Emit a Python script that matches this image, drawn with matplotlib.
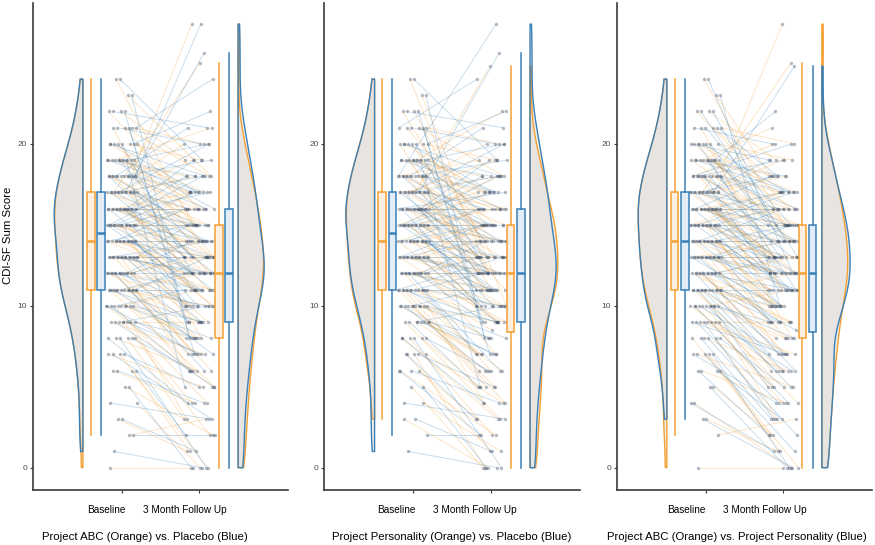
import numpy as np
import matplotlib
matplotlib.use("Agg")
import matplotlib.pyplot as plt
from matplotlib.collections import LineCollection
from matplotlib.patches import Polygon

plt.rcParams['font.family'] = ['Liberation Sans', 'DejaVu Sans']

# ---------------- data (paired scores, one entry per participant) ----------------
abc_baseline = [0, 2, 3, 4, 5, 6, 6, 7, 7, 8, 8, 8, 9, 9, 9, 9, 10, 10, 10, 10, 10,
                11, 11, 11, 11, 11, 11, 11,
                12, 12, 12, 12, 12, 12, 12,
                13, 13, 13, 13, 13, 13, 13, 13,
                14, 14, 14, 14, 14, 14, 14, 14,
                15, 15, 15, 15, 15, 15, 15, 15,
                16, 16, 16, 16, 16, 16, 16, 16, 16,
                17, 17, 17, 17, 17, 17, 17, 17,
                18, 18, 18, 18, 18, 18, 18,
                19, 19, 19, 19, 19, 19,
                20, 20, 20, 20,
                21, 21, 21,
                22, 22,
                23,
                24]
abc_followup = [0, 3, 1, 0, 2, 4, 0, 1, 5, 3, 6, 2, 4, 7, 3, 9, 5, 8, 4, 6, 11,
                5, 7, 10, 6, 12, 8, 9,
                6, 10, 13, 7, 9, 11, 8,
                9, 12, 14, 10, 8, 11, 7, 13,
                10, 12, 10, 11, 13, 9, 14, 12,
                11, 13, 17, 12, 14, 15, 10, 16,
                12, 14, 8, 13, 15, 11, 17, 16, 13,
                14, 12, 19, 15, 16, 25, 13, 18,
                15, 17, 14, 20, 16, 12, 27.4,
                16, 18, 14, 21, 15, 17,
                17, 19, 13, 15,
                18, 11, 20,
                19, 16,
                18,
                15]

placebo_baseline = [1, 2, 3, 4, 5, 6, 6, 7, 7, 8, 8, 8, 9, 9, 9, 9, 10, 10, 10, 10, 10,
                    11, 11, 11, 11, 11, 11, 11,
                    12, 12, 12, 12, 12, 12, 12,
                    13, 13, 13, 13, 13, 13, 13, 13,
                    14, 14, 14, 14, 14, 14, 14,
                    15, 15, 15, 15, 15, 15, 15, 15, 15,
                    16, 16, 16, 16, 16, 16, 16, 16, 16,
                    17, 17, 17, 17, 17, 17, 17, 17,
                    18, 18, 18, 18, 18, 18, 18,
                    19, 19, 19, 19, 19, 19,
                    20, 20, 20, 20,
                    21, 21, 21,
                    22, 22,
                    23,
                    24]
placebo_followup = [0, 2, 1, 3, 0, 4, 2, 5, 3, 6, 0, 4, 7, 5, 8, 10, 6, 9, 11, 7, 8,
                    8, 10, 12, 9, 7, 11, 13,
                    9, 11, 13, 10, 12, 14, 6,
                    10, 12, 14, 11, 13, 15, 9, 12,
                    11, 13, 15, 12, 16, 10, 14,
                    12, 14, 16, 11, 13, 17, 15, 10, 18,
                    13, 15, 17, 12, 14, 18, 16, 11, 19,
                    14, 16, 18, 12, 15, 20, 13, 25.6,
                    15, 17, 19, 13, 16, 21, 27.4,
                    16, 18, 20, 14, 17, 5,
                    17, 22, 12, 18,
                    9, 20, 24,
                    7, 21,
                    8,
                    19]

personality_baseline = [3, 4, 5, 6, 6, 7, 7, 7, 8, 8, 8, 9, 9, 9, 9, 10, 10, 10, 10, 10, 10,
                        11, 11, 11, 11, 11, 11, 11,
                        12, 12, 12, 12, 12, 12, 12,
                        13, 13, 13, 13, 13, 13, 13, 13,
                        14, 14, 14, 14, 14, 14, 14, 14,
                        15, 15, 15, 15, 15, 15, 15, 15,
                        16, 16, 16, 16, 16, 16, 16, 16, 16,
                        17, 17, 17, 17, 17, 17, 17, 17,
                        18, 18, 18, 18, 18, 18, 18,
                        19, 19, 19, 19, 19, 19,
                        20, 20, 20, 20,
                        21, 21, 21,
                        22, 22,
                        23,
                        24]
personality_followup = [0, 1, 0, 2, 3, 1, 4, 0, 3, 5, 2, 4, 6, 3, 7, 5, 7, 8, 6, 4, 9,
                        6, 8.5, 9, 5, 10, 7, 11,
                        9, 11, 10, 12, 7, 13, 6,
                        10, 12, 9, 14, 11, 13, 15, 12,
                        11, 13, 10, 15, 12, 14, 9, 16,
                        12, 14, 11, 16, 13, 15, 10, 17,
                        13, 15, 12, 17, 14, 16, 11, 18, 12,
                        14, 16, 13, 18, 15, 19, 12, 24.8,
                        15, 17, 14, 19, 16, 11, 20,
                        16, 18, 15, 13, 17, 22,
                        17, 19, 14, 11,
                        18, 15, 20,
                        14, 13,
                        10,
                        12]

time_labels = ["Baseline", "3 Month Follow Up"]
panel_titles = ["Project ABC (Orange) vs. Placebo (Blue)",
                "Project Personality (Orange) vs. Placebo (Blue)",
                "Project ABC (Orange) vs. Project Personality (Blue)"]
panel_groups = [((abc_baseline, abc_followup), (placebo_baseline, placebo_followup)),
                ((personality_baseline, personality_followup), (placebo_baseline, placebo_followup)),
                ((abc_baseline, abc_followup), (personality_baseline, personality_followup))]
y_ticks = [0, 10, 20]
y_label = "CDI-SF Sum Score"

# ---------------- styling ----------------
ORANGE = "#F5A033"
BLUE = "#3A80B8"
ORANGE_FILL = "#FDF0E2"
BLUE_FILL = "#E2EDF7"
VIOLIN_FILL = "#E4E0DC"
colors = [ORANGE, BLUE]
fills = [ORANGE_FILL, BLUE_FILL]

W, H = 875, 545
fig = plt.figure(figsize=(W / 100, H / 100), dpi=100)

axes_px = [(32.7, 288.0), (324.3, 580.0), (616.7, 871.7)]
top_px, bot_px = 3, 490
xlim = (-0.147, 3.143)
ylim = (-1.38, 28.7)

box_pos = {0: (0.60, 2.25), 1: (0.73, 2.38)}
violin_edge = (0.5, 2.5)
violin_maxw = 0.37
jit_w = 0.40
bw_adjust = 0.75


def kde(vals, grid):
    v = np.asarray(vals, float)
    n = len(v)
    sd = v.std(ddof=1)
    iqr = np.subtract(*np.percentile(v, [75, 25]))
    bw = 0.9 * min(sd, iqr / 1.34) * n ** -0.2 * bw_adjust
    z = (grid[:, None] - v[None, :]) / bw
    return np.exp(-0.5 * z ** 2).sum(axis=1) / (n * bw * np.sqrt(2 * np.pi))


tick_label_px = [(106, 185), (396, 475), (686, 765)]
title_px = [145, 452, 737]

for p, (groups, (l, r)) in enumerate(zip(panel_groups, axes_px)):
    ax = fig.add_axes([l / W, 1 - bot_px / H, (r - l) / W, (bot_px - top_px) / H])
    ax.set_xlim(*xlim)
    ax.set_ylim(*ylim)

    # connecting lines and points
    pts_x, pts_y = [], []
    for g, (base, follow) in enumerate(groups):
        b = np.asarray(base, float)
        f = np.asarray(follow, float)
        assert len(b) == len(f)
        n = len(b)
        idx = np.arange(n)
        jb = ((idx * 0.6180339 + 0.13 * (g + 1) + 0.07 * p) % 1 - 0.5) * jit_w
        jf = ((idx * 0.4142136 + 0.29 * (g + 1) + 0.11 * p) % 1 - 0.5) * jit_w
        xb = 1 + jb
        xf = 2 + jf
        segs = np.stack([np.column_stack([xb, b]), np.column_stack([xf, f])], axis=1)
        lc = LineCollection(segs, colors=colors[g], linewidths=0.7, alpha=0.27, zorder=1)
        ax.add_collection(lc)
        pts_x += [xb, xf]
        pts_y += [b, f]
    ax.scatter(np.concatenate(pts_x), np.concatenate(pts_y), s=6,
               color="#3F4E66", alpha=0.38, linewidths=0, zorder=2)

    # half violins
    dens_all = []
    for g, (base, follow) in enumerate(groups):
        for t, vals in enumerate((base, follow)):
            v = np.asarray(vals, float)
            grid = np.linspace(v.min(), v.max(), 300)
            dens_all.append((g, t, grid, kde(v, grid)))
    dmax = max(d.max() for _, _, _, d in dens_all)
    polys = []
    for g, t, grid, d in dens_all:
        w = d / dmax * violin_maxw
        edge = violin_edge[t]
        xs = edge - w if t == 0 else edge + w
        poly = np.column_stack([np.concatenate([xs, [edge, edge]]),
                                np.concatenate([grid, [grid[-1], grid[0]]])])
        polys.append((g, poly))
        ax.add_patch(Polygon(poly, closed=True, facecolor=VIOLIN_FILL, alpha=0.6,
                             edgecolor="none", zorder=3))
    for g, poly in polys:
        ax.add_patch(Polygon(poly, closed=True, facecolor="none",
                             edgecolor=colors[g], linewidth=1.0, zorder=4))

    # boxplots
    for g, (base, follow) in enumerate(groups):
        for t, vals in enumerate((base, follow)):
            ax.boxplot([vals], positions=[box_pos[g][t]], widths=0.1, whis=1.5,
                       showfliers=False, showcaps=False, patch_artist=True,
                       manage_ticks=False, zorder=5,
                       boxprops=dict(facecolor=fills[g], edgecolor=colors[g], linewidth=1.1),
                       whiskerprops=dict(color=colors[g], linewidth=1.1),
                       medianprops=dict(color=colors[g], linewidth=1.8))

    # axes styling
    for s in ("top", "right"):
        ax.spines[s].set_visible(False)
    for s in ("left", "bottom"):
        ax.spines[s].set_color("#3a3a3a")
        ax.spines[s].set_linewidth(1.2)
    ax.set_yticks(y_ticks)
    ax.set_yticklabels([str(v) for v in y_ticks], fontsize=6, color="#4D4D4D")
    ax.set_xticks([1, 2])
    ax.set_xticklabels(["", ""])
    ax.tick_params(axis="both", length=2.5, width=0.8, color="#3a3a3a", pad=1.5)

    for lab, xp in zip(time_labels, tick_label_px[p]):
        fig.text(xp / W, 1 - 510 / H, lab, ha="center", va="center", fontsize=7.2, color="black")
    fig.text(title_px[p] / W, 1 - 536.5 / H, panel_titles[p], ha="center", va="center",
             fontsize=8.2, color="black")

fig.text(8 / W, 1 - 235 / H, y_label, rotation=90, ha="center", va="center", fontsize=8.2)

fig.savefig("out.png", dpi=100)
